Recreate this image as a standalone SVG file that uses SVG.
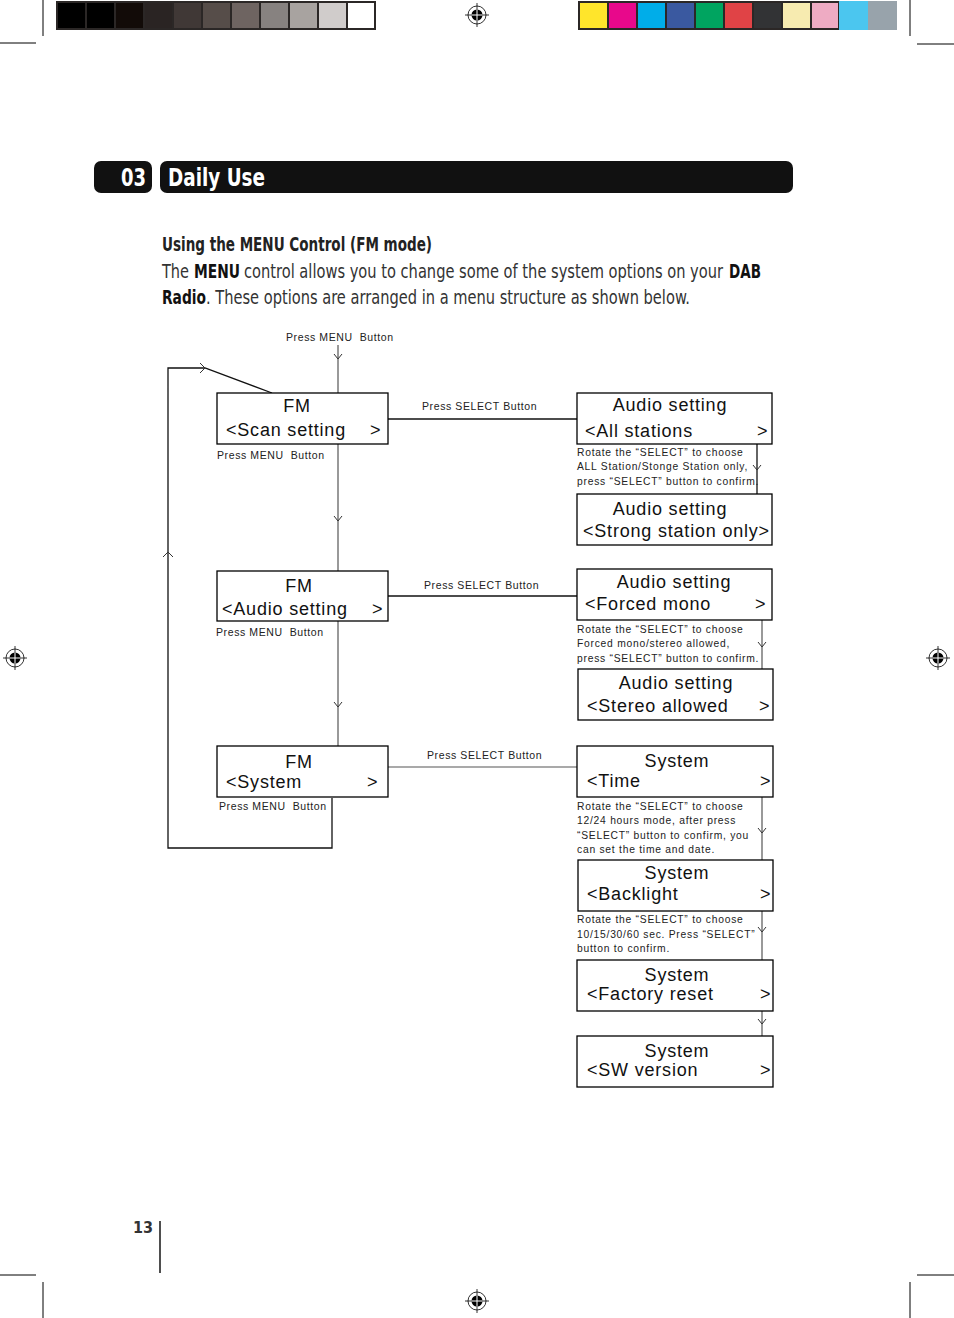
<svg xmlns="http://www.w3.org/2000/svg" xmlns:xlink="http://www.w3.org/1999/xlink" width="954" height="1318" viewBox="0 0 954 1318">
<style>
.crop{stroke:#000;stroke-width:1;fill:none}
.cond{font-family:"Liberation Sans Narrow","DejaVu Sans Condensed","Liberation Sans",sans-serif}
.box{fill:#fff;stroke:#000;stroke-width:1.3}
.bt{font-family:"Liberation Sans",Arial,sans-serif;font-size:18px;letter-spacing:0.8px;fill:#111}
.sm{font-family:"Liberation Sans",Arial,sans-serif;font-size:10.5px;letter-spacing:0.6px;fill:#222}
.note{font-family:"Liberation Sans",Arial,sans-serif;font-size:10.3px;letter-spacing:0.75px;fill:#222}
.con{stroke:#555;stroke-width:1.2;fill:none}
.blk{stroke:#111;stroke-width:1.3;fill:none}
.ah{stroke:#333;stroke-width:1;fill:none}
</style>
<defs>
<path id="ad" class="ah" d="M-4,-5 L0,0 L4,-5"/>
<g id="reg">
<circle r="9" fill="none" stroke="#000" stroke-width="0.8"/>
<line x1="-12" y1="0" x2="12" y2="0" stroke="#000" stroke-width="0.8"/>
<line x1="0" y1="-12" x2="0" y2="12" stroke="#000" stroke-width="0.8"/>
<circle r="5.5" fill="#000"/>
<line x1="-5.5" y1="0" x2="5.5" y2="0" stroke="#fff" stroke-width="1"/>
<line x1="0" y1="-5.5" x2="0" y2="5.5" stroke="#fff" stroke-width="1"/>
</g>
</defs>
<rect width="954" height="1318" fill="#fff"/>

<!-- crop marks -->
<g id="crops">
<line class="crop" x1="43" y1="0" x2="43" y2="36"/>
<line class="crop" x1="0" y1="43" x2="36" y2="43"/>
<line class="crop" x1="910" y1="0" x2="910" y2="36"/>
<line class="crop" x1="917" y1="44" x2="954" y2="44"/>
<line class="crop" x1="0" y1="1275" x2="36" y2="1275"/>
<line class="crop" x1="43" y1="1282" x2="43" y2="1318"/>
<line class="crop" x1="917" y1="1275" x2="954" y2="1275"/>
<line class="crop" x1="910" y1="1282" x2="910" y2="1318"/>
</g>

<!-- swatches -->
<g id="grays">
<rect x="56" y="1" width="320" height="29" fill="#2b2726"/>
<rect x="58" y="3" width="27" height="25" fill="#000"/>
<rect x="87" y="3" width="27" height="25" fill="#000"/>
<rect x="116" y="3" width="27" height="25" fill="#120b08"/>
<rect x="145" y="3" width="27" height="25" fill="#2a2423"/>
<rect x="174" y="3" width="27" height="25" fill="#403836"/>
<rect x="203" y="3" width="27" height="25" fill="#564d49"/>
<rect x="232" y="3" width="27" height="25" fill="#6e6461"/>
<rect x="261" y="3" width="27" height="25" fill="#878280"/>
<rect x="290" y="3" width="27" height="25" fill="#a8a3a0"/>
<rect x="319" y="3" width="27" height="25" fill="#d0cccb"/>
<rect x="348" y="3" width="26" height="25" fill="#fff"/>
</g>
<g id="colors">
<rect x="578" y="1" width="261" height="29" fill="#2b2726"/>
<rect x="580" y="3" width="27" height="25" fill="#ffe52b"/>
<rect x="609" y="3" width="27" height="25" fill="#e8088b"/>
<rect x="638" y="3" width="27" height="25" fill="#00ade9"/>
<rect x="667" y="3" width="27" height="25" fill="#3a59a0"/>
<rect x="696" y="3" width="27" height="25" fill="#00a460"/>
<rect x="725" y="3" width="27" height="25" fill="#e04346"/>
<rect x="754" y="3" width="27" height="25" fill="#323335"/>
<rect x="783" y="3" width="27" height="25" fill="#f7ebb0"/>
<rect x="812" y="3" width="26" height="25" fill="#eeabc3"/>
<rect x="839" y="1" width="29" height="29" fill="#4bc6ef"/>
<rect x="868" y="1" width="29" height="29" fill="#98a3ab"/>
</g>

<use xlink:href="#reg" x="477" y="15"/>
<use xlink:href="#reg" x="15" y="658"/>
<use xlink:href="#reg" x="938" y="658"/>
<use xlink:href="#reg" x="477" y="1301"/>

<!-- header -->
<g id="header">
<rect x="94" y="161" width="58" height="32" rx="7" fill="#111"/>
<rect x="160" y="161" width="633" height="32" rx="7" fill="#111"/>
<text class="cond" x="121" y="186" font-size="25" font-weight="bold" fill="#fff" textLength="25" lengthAdjust="spacingAndGlyphs">03</text>
<text class="cond" x="168" y="186" font-size="25" font-weight="bold" fill="#fff" textLength="97" lengthAdjust="spacingAndGlyphs">Daily Use</text>
</g>

<g id="intro">
<text class="cond" x="162" y="251" font-size="19" font-weight="bold" fill="#222" textLength="270" lengthAdjust="spacingAndGlyphs">Using the MENU Control (FM mode)</text>
<text class="cond" x="162" y="278" font-size="19" fill="#333" textLength="27" lengthAdjust="spacingAndGlyphs">The</text>
<text class="cond" x="194" y="278" font-size="19" font-weight="bold" fill="#111" textLength="46" lengthAdjust="spacingAndGlyphs">MENU</text>
<text class="cond" x="244" y="278" font-size="19" fill="#333" textLength="479" lengthAdjust="spacingAndGlyphs">control allows you to change some of the system options on your</text>
<text class="cond" x="729" y="278" font-size="19" font-weight="bold" fill="#111" textLength="32" lengthAdjust="spacingAndGlyphs">DAB</text>
<text class="cond" x="162" y="304" font-size="19" font-weight="bold" fill="#111" textLength="44" lengthAdjust="spacingAndGlyphs">Radio</text>
<text class="cond" x="206" y="304" font-size="19" fill="#333" textLength="484" lengthAdjust="spacingAndGlyphs">. These options are arranged in a menu structure as shown below.</text>
</g>

<!-- connectors -->
<g id="connectors">
<line class="con" x1="338" y1="345" x2="338" y2="393"/>
<use xlink:href="#ad" x="338" y="359"/>
<line class="con" x1="338" y1="444" x2="338" y2="571"/>
<use xlink:href="#ad" x="338" y="521"/>
<line class="con" x1="338" y1="621" x2="338" y2="746"/>
<use xlink:href="#ad" x="338" y="707"/>
<line class="blk" x1="388" y1="419" x2="577" y2="419"/>
<line class="blk" x1="388" y1="596" x2="577" y2="596"/>
<line class="con" x1="388" y1="767" x2="577" y2="767"/>
<line class="blk" x1="757" y1="444" x2="757" y2="494"/>
<use xlink:href="#ad" x="757" y="470"/>
<line class="con" x1="762" y1="620" x2="762" y2="669"/>
<use xlink:href="#ad" x="762" y="647"/>
<line class="con" x1="762" y1="797" x2="762" y2="860"/>
<use xlink:href="#ad" x="762" y="833"/>
<line class="con" x1="762" y1="911" x2="762" y2="960"/>
<use xlink:href="#ad" x="762" y="932"/>
<line class="con" x1="762" y1="1011" x2="762" y2="1036"/>
<use xlink:href="#ad" x="762" y="1024"/>
<polyline class="blk" points="332,798 332,848 168,848 168,368 205,368 272,393"/>
<path class="ah" d="M200,363 L205,368 L200,373"/>
<path class="ah" d="M163,557 L168,552 L173,557"/>
</g>

<!-- labels -->
<g id="labels">
<text class="sm" x="286" y="341" xml:space="preserve">Press MENU  Button</text>
<text class="sm" x="217" y="459" xml:space="preserve">Press MENU  Button</text>
<text class="sm" x="216" y="636" xml:space="preserve">Press MENU  Button</text>
<text class="sm" x="219" y="810" xml:space="preserve">Press MENU  Button</text>
<text class="sm" x="422" y="410">Press SELECT Button</text>
<text class="sm" x="424" y="589">Press SELECT Button</text>
<text class="sm" x="427" y="759">Press SELECT Button</text>
</g>

<g id="fm1">
<rect class="box" x="217" y="393" width="171" height="51"/>
<text class="bt" x="297" y="412" text-anchor="middle">FM</text>
<text class="bt" x="226" y="436">&lt;Scan setting</text>
<text class="bt" x="370" y="436">&gt;</text>
</g>
<g id="fm2">
<rect class="box" x="217" y="571" width="171" height="50"/>
<text class="bt" x="299" y="592" text-anchor="middle">FM</text>
<text class="bt" x="222" y="615">&lt;Audio setting</text>
<text class="bt" x="372" y="615">&gt;</text>
</g>
<g id="fm3">
<rect class="box" x="217" y="746" width="171" height="51"/>
<text class="bt" x="299" y="768" text-anchor="middle">FM</text>
<text class="bt" x="226" y="788">&lt;System</text>
<text class="bt" x="367" y="788">&gt;</text>
</g>

<g id="audio1">
<rect class="box" x="577" y="393" width="195" height="51"/>
<text class="bt" x="670" y="411" text-anchor="middle">Audio setting</text>
<text class="bt" x="585" y="437">&lt;All stations</text>
<text class="bt" x="757" y="437">&gt;</text>
</g>
<g id="note1">
<text class="note" x="577" y="456">Rotate the “SELECT” to choose</text>
<text class="note" x="577" y="470">ALL Station/Stonge Station only,</text>
<text class="note" x="577" y="485">press “SELECT” button to confirm.</text>
</g>
<g id="audio2">
<rect class="box" x="577" y="494" width="195" height="51"/>
<text class="bt" x="670" y="515" text-anchor="middle">Audio setting</text>
<text class="bt" x="583" y="537">&lt;Strong station only&gt;</text>
</g>

<g id="audio3">
<rect class="box" x="577" y="569" width="195" height="51"/>
<text class="bt" x="674" y="588" text-anchor="middle">Audio setting</text>
<text class="bt" x="585" y="610">&lt;Forced mono</text>
<text class="bt" x="755" y="610">&gt;</text>
</g>
<g id="note2">
<text class="note" x="577" y="633">Rotate the “SELECT” to choose</text>
<text class="note" x="577" y="647">Forced mono/stereo allowed,</text>
<text class="note" x="577" y="662">press “SELECT” button to confirm.</text>
</g>
<g id="audio4">
<rect class="box" x="578" y="669" width="195" height="51" stroke-width="2"/>
<text class="bt" x="676" y="689" text-anchor="middle">Audio setting</text>
<text class="bt" x="587" y="712">&lt;Stereo allowed</text>
<text class="bt" x="759" y="712">&gt;</text>
</g>

<g id="sys1">
<rect class="box" x="577" y="746" width="196" height="51"/>
<text class="bt" x="677" y="767" text-anchor="middle">System</text>
<text class="bt" x="587" y="787">&lt;Time</text>
<text class="bt" x="760" y="787">&gt;</text>
</g>
<g id="note3">
<text class="note" x="577" y="810">Rotate the “SELECT” to choose</text>
<text class="note" x="577" y="824">12/24 hours mode, after press</text>
<text class="note" x="577" y="839">“SELECT” button to confirm, you</text>
<text class="note" x="577" y="853">can set the time and date.</text>
</g>
<g id="sys2">
<rect class="box" x="578" y="860" width="195" height="51" stroke-width="1.8"/>
<text class="bt" x="677" y="879" text-anchor="middle">System</text>
<text class="bt" x="587" y="900">&lt;Backlight</text>
<text class="bt" x="760" y="900">&gt;</text>
</g>
<g id="note4">
<text class="note" x="577" y="923">Rotate the “SELECT” to choose</text>
<text class="note" x="577" y="938">10/15/30/60 sec. Press “SELECT”</text>
<text class="note" x="577" y="952">button to confirm.</text>
</g>
<g id="sys3">
<rect class="box" x="577" y="960" width="196" height="51"/>
<text class="bt" x="677" y="981" text-anchor="middle">System</text>
<text class="bt" x="587" y="1000">&lt;Factory reset</text>
<text class="bt" x="760" y="1000">&gt;</text>
</g>
<g id="sys4">
<rect class="box" x="577" y="1036" width="196" height="51"/>
<text class="bt" x="677" y="1057" text-anchor="middle">System</text>
<text class="bt" x="587" y="1076">&lt;SW version</text>
<text class="bt" x="760" y="1076">&gt;</text>
</g>

<g id="footer">
<text class="cond" x="133" y="1233" font-size="16" font-weight="bold" fill="#333">13</text>
<line x1="160" y1="1221" x2="160" y2="1273" stroke="#222" stroke-width="1.6"/>
</g>
</svg>
